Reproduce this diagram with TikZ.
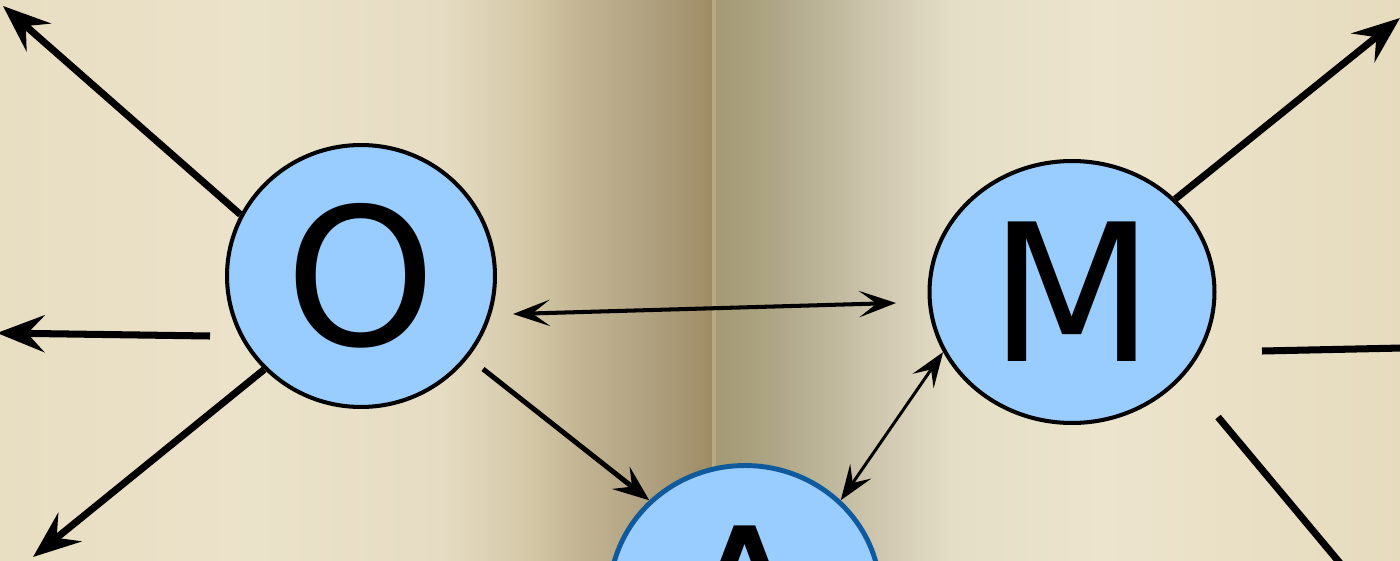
\documentclass[tikz,border=0pt]{standalone}
\usepackage{fontspec}
\newfontfamily\letterfont{DejaVu Sans}
\usetikzlibrary{arrows.meta,calc,shapes.geometric}
\definecolor{nodeblue}{HTML}{99CCFF}
\definecolor{Ablue}{HTML}{0F5A9C}
\definecolor{pgA}{HTML}{E8DEC2}
\definecolor{pgB}{HTML}{EBE2CA}
\definecolor{pgC}{HTML}{E5DCC3}
\definecolor{pgD}{HTML}{D6CAAA}
\definecolor{pgE}{HTML}{C3B593}
\definecolor{pgF}{HTML}{AFA07F}
\definecolor{pgG}{HTML}{A08F68}
\definecolor{pgH}{HTML}{9C8A5F}
\definecolor{pgI}{HTML}{B6A985}
\definecolor{pgJ}{HTML}{A39974}
\definecolor{pgK}{HTML}{AFA787}
\definecolor{pgL}{HTML}{C9C2A9}
\definecolor{pgM}{HTML}{E5DEC6}
\definecolor{pgN}{HTML}{ECE4CD}
\definecolor{pgO}{HTML}{E6DBBD}

\begin{document}
\begin{tikzpicture}[x=0.02cm,y=-0.02cm]
	\tikzstyle{letter_node}=[ellipse,draw=black,line width=2.3pt,fill=nodeblue,inner sep=0pt,
		font={\letterfont\fontsize{109pt}{120pt}\selectfont}]
	\tikzstyle{big_arrow}=[line width=4pt,-{Stealth[length=27pt,width=21pt,inset=9.7pt]}]
	\tikzstyle{big_line}=[line width=4pt]
	\tikzstyle{mid_arrow}=[line width=2.85pt,-{Stealth[length=20.5pt,width=16pt,inset=8pt]}]
	\tikzstyle{link_arrow}=[line width=2.3pt,{Stealth[length=21pt,width=15pt,inset=10pt]}-{Stealth[length=21pt,width=15pt,inset=10pt]}]
	\tikzstyle{thin_link}=[line width=1.7pt,{Stealth[length=20pt,width=14.5pt,inset=8pt]}-{Stealth[length=20pt,width=14.5pt,inset=8pt]}]
	\useasboundingbox (0,0) rectangle (1400,561);
	\clip (0,0) rectangle (1400,561);
	% the open book behind
	\foreach \xa/\xb/\ca/\cb in {0/250/pgA/pgB, 250/440/pgB/pgC, 440/520/pgC/pgD, 520/580/pgD/pgE,
		580/650/pgE/pgF, 650/705/pgF/pgG, 705/712/pgG/pgH, 712/716/pgI/pgI, 716/780/pgJ/pgK,
		780/860/pgK/pgL, 860/950/pgL/pgM, 950/1100/pgM/pgN, 1100/1400/pgN/pgO}
		\shade[left color=\ca,right color=\cb] (\xa,0) rectangle (\xb+1,561);
	% nodes
	\node [letter_node,minimum width=5.36cm,minimum height=5.24cm] (O) at (361,276) {O};
	\node [letter_node,minimum width=5.7cm,minimum height=5.24cm] (M) at (1072,292) {M};
	\node [letter_node,draw=Ablue,line width=2.8pt,minimum width=5.42cm,minimum height=5.22cm] (A) at (745,596) {A};
	% free ends
	\coordinate (O_tl) at (3,6);
	\coordinate (O_l) at (-3,333);
	\coordinate (O_bl) at (33,557);
	\coordinate (M_tr) at (1400,18);
	\coordinate (M_r) at (1450,347);
	\coordinate (M_br) at (1380,611);
	% connectors
	\draw [big_arrow] (O.153) -- (O_tl);
	\draw [big_arrow] ($(O)+(-151,60)$) -- (O_l);
	\draw [big_arrow] (O.224) -- (O_bl);
	\draw [mid_arrow] ($(O)+(122,93)$) -- (A.135);
	\draw [link_arrow] ($(O)+(152,38)$) -- ($(M)+(-176,11)$);
	\draw [thin_link] (A.45) -- (M.205);
	\draw [big_arrow] (M.42) -- (M_tr);
	\draw [big_line] ($(M)+(190,59)$) -- (M_r);
	\draw [big_line] ($(M)+(146,125)$) -- (M_br);
\end{tikzpicture}
\end{document}
